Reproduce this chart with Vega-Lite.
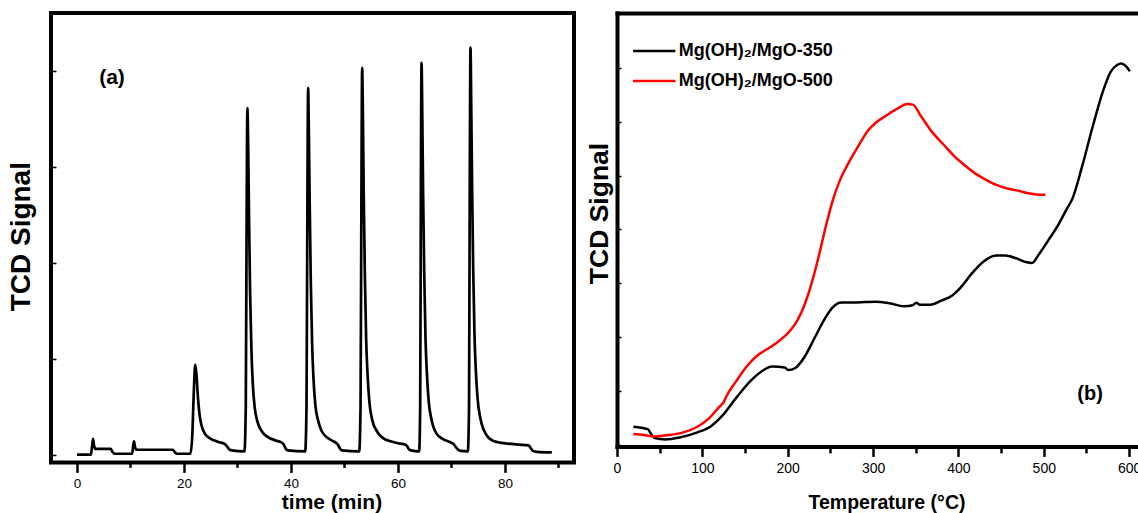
{
  "$schema": "https://vega.github.io/schema/vega-lite/v6.json",
  "background": "white",
  "padding": {"left": 5, "top": 11, "right": 0, "bottom": 0},
  "spacing": 10,
  "config": {
    "view": {"stroke": "black", "strokeWidth": 4},
    "font": "Liberation Sans",
    "axis": {"labelFont": "Liberation Sans", "titleFont": "Liberation Sans", "labelColor": "black", "titleColor": "black", "tickColor": "black", "domainColor": "black", "grid": false, "labelOverlap": false, "labelFlush": false}
  },
  "hconcat": [
    {
      "width": 523,
      "height": 449.4,
      "layer": [
        {
          "data": {"values": [
            {"t":0,"v":0},{"t":2.6,"v":0},{"t":2.8,"v":0.08},{"t":3.0,"v":0.164},{"t":3.2,"v":0.09},{"t":3.5,"v":0.06},{"t":6.3,"v":0.06},{"t":6.6,"v":0.03},{"t":7.0,"v":0.01},{"t":10.3,"v":0.01},{"t":10.5,"v":0.09},{"t":10.65,"v":0.139},{"t":10.85,"v":0.08},{"t":11.15,"v":0.052},{"t":17.9,"v":0.052},{"t":18.3,"v":0.025},{"t":18.65,"v":0.01},{"t":21.2,"v":0.01},
            {"t":21.55,"v":0.2},{"t":21.8,"v":0.6},{"t":22.1,"v":0.9375},{"t":22.35,"v":0.82},{"t":22.6,"v":0.6},{"t":22.9,"v":0.42},{"t":23.3,"v":0.3},{"t":23.9,"v":0.22},{"t":24.6,"v":0.18},{"t":25.6,"v":0.15},{"t":26.6,"v":0.13},{"t":27.5,"v":0.115},{"t":28.0,"v":0.09},{"t":28.4,"v":0.06},{"t":28.9,"v":0.045},{"t":31.3,"v":0.035},
            {"t":31.55,"v":0.5},{"t":31.72,"v":2.6},{"t":31.85,"v":3.61},{"t":32.0,"v":3.2},{"t":32.15,"v":2.5},{"t":32.35,"v":1.7},{"t":32.6,"v":1.1},{"t":32.85,"v":0.75},{"t":33.2,"v":0.5},{"t":33.7,"v":0.35},{"t":34.6,"v":0.24},{"t":35.7,"v":0.184},{"t":37.1,"v":0.149},{"t":38.4,"v":0.122},{"t":38.7,"v":0.1},{"t":39.0,"v":0.065},{"t":39.4,"v":0.045},{"t":42.65,"v":0.035},
            {"t":42.9,"v":0.5},{"t":43.07,"v":2.7},{"t":43.2,"v":3.82},{"t":43.35,"v":3.3},{"t":43.5,"v":2.6},{"t":43.7,"v":1.8},{"t":43.95,"v":1.15},{"t":44.2,"v":0.8},{"t":44.55,"v":0.52},{"t":45.05,"v":0.36},{"t":45.7,"v":0.25},{"t":47.0,"v":0.17},{"t":47.9,"v":0.14},{"t":48.4,"v":0.125},{"t":48.8,"v":0.1},{"t":49.1,"v":0.07},{"t":49.5,"v":0.045},{"t":52.75,"v":0.035},
            {"t":53.0,"v":0.5},{"t":53.17,"v":2.8},{"t":53.3,"v":4.03},{"t":53.45,"v":3.5},{"t":53.6,"v":2.7},{"t":53.8,"v":1.9},{"t":54.05,"v":1.2},{"t":54.3,"v":0.85},{"t":54.65,"v":0.55},{"t":55.15,"v":0.37},{"t":56.1,"v":0.24},{"t":57.3,"v":0.17},{"t":58.6,"v":0.14},{"t":60.0,"v":0.12},{"t":61.4,"v":0.105},{"t":61.7,"v":0.09},{"t":62.0,"v":0.06},{"t":62.4,"v":0.045},{"t":63.95,"v":0.035},
            {"t":64.15,"v":0.5},{"t":64.28,"v":2.8},{"t":64.4,"v":4.08},{"t":64.55,"v":3.5},{"t":64.7,"v":2.7},{"t":64.9,"v":1.9},{"t":65.15,"v":1.2},{"t":65.4,"v":0.85},{"t":65.75,"v":0.55},{"t":66.25,"v":0.37},{"t":67.2,"v":0.22},{"t":68.5,"v":0.16},{"t":69.8,"v":0.13},{"t":70.4,"v":0.11},{"t":70.8,"v":0.08},{"t":71.2,"v":0.055},{"t":71.7,"v":0.04},{"t":73.05,"v":0.035},
            {"t":73.28,"v":0.5},{"t":73.42,"v":2.9},{"t":73.55,"v":4.24},{"t":73.7,"v":3.6},{"t":73.85,"v":2.8},{"t":74.05,"v":1.95},{"t":74.3,"v":1.25},{"t":74.55,"v":0.88},{"t":74.9,"v":0.57},{"t":75.4,"v":0.38},{"t":76.6,"v":0.2},{"t":77.6,"v":0.15},{"t":78.7,"v":0.13},{"t":80.5,"v":0.115},{"t":82.5,"v":0.105},{"t":84.4,"v":0.097},{"t":84.8,"v":0.07},{"t":85.2,"v":0.04},{"t":86.0,"v":0.03},{"t":88.75,"v":0.024}
          ]},
          "mark": {"type": "line", "color": "black", "strokeWidth": 2.7, "interpolate": "monotone"},
          "encoding": {
            "x": {"field": "t", "type": "quantitative",
              "scale": {"domain": [-4.86, 92.9], "nice": false, "zero": false},
              "axis": {"values": [0,10,20,30,40,50,60,70,80,90],
                "labelExpr": "datum.value % 20 === 0 ? datum.label : ''",
                "tickSize": {"condition": {"test": "datum.value % 20 === 0", "value": 10}, "value": 5},
                "tickWidth": 2.5, "domain": false, "labelFontSize": 13.5, "labelPadding": 4,
                "title": "time (min)", "titleFontSize": 21, "titleFontWeight": "bold", "titleX": 280.5, "titleY": 28.6}},
            "y": {"field": "v", "type": "quantitative",
              "scale": {"domain": [-0.08, 4.6], "nice": false, "zero": false},
              "axis": {"values": [0,1,2,3,4], "labels": false, "tickSize": -5, "tickWidth": 1.5, "domain": false,
                "title": "TCD Signal", "titleFontSize": 28, "titleFontWeight": "bold", "titleX": -15.5, "titleY": 223.2}}
          }
        },
        {
          "data": {"values": [{"label": "(a)"}]},
          "mark": {"type": "text", "fontSize": 21, "fontWeight": "bold", "font": "Liberation Sans", "color": "black", "align": "center", "baseline": "middle"},
          "encoding": {"text": {"field": "label"}, "x": {"datum": 6.54, "type": "quantitative"}, "y": {"datum": 3.92, "type": "quantitative"}}
        }
      ]
    },
    {
      "width": 521,
      "height": 433.4,
      "view": {"stroke": null},
      "layer": [
        {
          "data": {"values": [
            {"s":"Mg(OH)\u2082/MgO-350","T":19.2,"v":0.68},{"s":"Mg(OH)\u2082/MgO-350","T":35.9,"v":0.59},{"s":"Mg(OH)\u2082/MgO-350","T":40,"v":0.41},{"s":"Mg(OH)\u2082/MgO-350","T":44.2,"v":0.26},{"s":"Mg(OH)\u2082/MgO-350","T":56.7,"v":0.21},{"s":"Mg(OH)\u2082/MgO-350","T":73.4,"v":0.28},{"s":"Mg(OH)\u2082/MgO-350","T":94.2,"v":0.47},{"s":"Mg(OH)\u2082/MgO-350","T":110.9,"v":0.72},{"s":"Mg(OH)\u2082/MgO-350","T":123.4,"v":1.09},{"s":"Mg(OH)\u2082/MgO-350","T":140.1,"v":1.77},{"s":"Mg(OH)\u2082/MgO-350","T":156.8,"v":2.39},{"s":"Mg(OH)\u2082/MgO-350","T":169.3,"v":2.73},{"s":"Mg(OH)\u2082/MgO-350","T":181.8,"v":2.91},{"s":"Mg(OH)\u2082/MgO-350","T":196.4,"v":2.88},{"s":"Mg(OH)\u2082/MgO-350","T":200.6,"v":2.78},{"s":"Mg(OH)\u2082/MgO-350","T":208.9,"v":2.86},{"s":"Mg(OH)\u2082/MgO-350","T":219.3,"v":3.25},{"s":"Mg(OH)\u2082/MgO-350","T":231.9,"v":4.0},{"s":"Mg(OH)\u2082/MgO-350","T":244.4,"v":4.74},{"s":"Mg(OH)\u2082/MgO-350","T":252.7,"v":5.11},{"s":"Mg(OH)\u2082/MgO-350","T":263.1,"v":5.29},{"s":"Mg(OH)\u2082/MgO-350","T":277.7,"v":5.29},{"s":"Mg(OH)\u2082/MgO-350","T":302.8,"v":5.32},{"s":"Mg(OH)\u2082/MgO-350","T":319.4,"v":5.26},{"s":"Mg(OH)\u2082/MgO-350","T":336.1,"v":5.15},{"s":"Mg(OH)\u2082/MgO-350","T":346.5,"v":5.19},{"s":"Mg(OH)\u2082/MgO-350","T":350.7,"v":5.28},{"s":"Mg(OH)\u2082/MgO-350","T":354.9,"v":5.21},{"s":"Mg(OH)\u2082/MgO-350","T":367.4,"v":5.21},{"s":"Mg(OH)\u2082/MgO-350","T":379.9,"v":5.36},{"s":"Mg(OH)\u2082/MgO-350","T":392.4,"v":5.54},{"s":"Mg(OH)\u2082/MgO-350","T":402.8,"v":5.85},{"s":"Mg(OH)\u2082/MgO-350","T":415.3,"v":6.35},{"s":"Mg(OH)\u2082/MgO-350","T":429.9,"v":6.82},{"s":"Mg(OH)\u2082/MgO-350","T":444.5,"v":7.03},{"s":"Mg(OH)\u2082/MgO-350","T":455,"v":7.03},{"s":"Mg(OH)\u2082/MgO-350","T":467.5,"v":6.93},{"s":"Mg(OH)\u2082/MgO-350","T":480,"v":6.78},{"s":"Mg(OH)\u2082/MgO-350","T":486.2,"v":6.75},{"s":"Mg(OH)\u2082/MgO-350","T":494.6,"v":7.09},{"s":"Mg(OH)\u2082/MgO-350","T":507.1,"v":7.68},{"s":"Mg(OH)\u2082/MgO-350","T":517.5,"v":8.2},{"s":"Mg(OH)\u2082/MgO-350","T":525.9,"v":8.7},{"s":"Mg(OH)\u2082/MgO-350","T":534.2,"v":9.19},{"s":"Mg(OH)\u2082/MgO-350","T":544.6,"v":10.3},{"s":"Mg(OH)\u2082/MgO-350","T":557.1,"v":11.79},{"s":"Mg(OH)\u2082/MgO-350","T":569.6,"v":13.15},{"s":"Mg(OH)\u2082/MgO-350","T":578,"v":13.83},{"s":"Mg(OH)\u2082/MgO-350","T":586.3,"v":14.11},{"s":"Mg(OH)\u2082/MgO-350","T":590.5,"v":14.16},{"s":"Mg(OH)\u2082/MgO-350","T":594.7,"v":14.1},{"s":"Mg(OH)\u2082/MgO-350","T":600.9,"v":13.87},
            {"s":"Mg(OH)\u2082/MgO-500","T":19.2,"v":0.41},{"s":"Mg(OH)\u2082/MgO-500","T":31.7,"v":0.37},{"s":"Mg(OH)\u2082/MgO-500","T":44.2,"v":0.32},{"s":"Mg(OH)\u2082/MgO-500","T":60.9,"v":0.37},{"s":"Mg(OH)\u2082/MgO-500","T":77.6,"v":0.47},{"s":"Mg(OH)\u2082/MgO-500","T":94.2,"v":0.68},{"s":"Mg(OH)\u2082/MgO-500","T":106.8,"v":0.96},{"s":"Mg(OH)\u2082/MgO-500","T":119.3,"v":1.4},{"s":"Mg(OH)\u2082/MgO-500","T":125.5,"v":1.62},{"s":"Mg(OH)\u2082/MgO-500","T":127.6,"v":1.77},{"s":"Mg(OH)\u2082/MgO-500","T":140.1,"v":2.39},{"s":"Mg(OH)\u2082/MgO-500","T":152.6,"v":2.94},{"s":"Mg(OH)\u2082/MgO-500","T":165.1,"v":3.34},{"s":"Mg(OH)\u2082/MgO-500","T":177.6,"v":3.59},{"s":"Mg(OH)\u2082/MgO-500","T":190.2,"v":3.87},{"s":"Mg(OH)\u2082/MgO-500","T":202.7,"v":4.24},{"s":"Mg(OH)\u2082/MgO-500","T":211,"v":4.61},{"s":"Mg(OH)\u2082/MgO-500","T":219.3,"v":5.17},{"s":"Mg(OH)\u2082/MgO-500","T":227.7,"v":5.97},{"s":"Mg(OH)\u2082/MgO-500","T":236,"v":6.96},{"s":"Mg(OH)\u2082/MgO-500","T":244.4,"v":8.08},{"s":"Mg(OH)\u2082/MgO-500","T":252.7,"v":9.07},{"s":"Mg(OH)\u2082/MgO-500","T":261,"v":9.81},{"s":"Mg(OH)\u2082/MgO-500","T":269.4,"v":10.36},{"s":"Mg(OH)\u2082/MgO-500","T":281.9,"v":11.05},{"s":"Mg(OH)\u2082/MgO-500","T":294.4,"v":11.68},{"s":"Mg(OH)\u2082/MgO-500","T":302.8,"v":11.95},{"s":"Mg(OH)\u2082/MgO-500","T":315.3,"v":12.22},{"s":"Mg(OH)\u2082/MgO-500","T":327.8,"v":12.47},{"s":"Mg(OH)\u2082/MgO-500","T":340.3,"v":12.65},{"s":"Mg(OH)\u2082/MgO-500","T":346.5,"v":12.63},{"s":"Mg(OH)\u2082/MgO-500","T":357,"v":12.16},{"s":"Mg(OH)\u2082/MgO-500","T":369.5,"v":11.6},{"s":"Mg(OH)\u2082/MgO-500","T":382,"v":11.17},{"s":"Mg(OH)\u2082/MgO-500","T":394.5,"v":10.74},{"s":"Mg(OH)\u2082/MgO-500","T":407,"v":10.39},{"s":"Mg(OH)\u2082/MgO-500","T":419.5,"v":10.08},{"s":"Mg(OH)\u2082/MgO-500","T":432,"v":9.85},{"s":"Mg(OH)\u2082/MgO-500","T":444.5,"v":9.65},{"s":"Mg(OH)\u2082/MgO-500","T":457,"v":9.52},{"s":"Mg(OH)\u2082/MgO-500","T":469.5,"v":9.44},{"s":"Mg(OH)\u2082/MgO-500","T":482,"v":9.34},{"s":"Mg(OH)\u2082/MgO-500","T":494.6,"v":9.29},{"s":"Mg(OH)\u2082/MgO-500","T":502,"v":9.29}
          ]},
          "mark": {"type": "line", "strokeWidth": 2.5, "interpolate": "monotone"},
          "encoding": {
            "x": {"field": "T", "type": "quantitative",
              "scale": {"domain": [0, 610.4], "nice": false, "zero": false},
              "axis": {"orient": "bottom", "values": [0,50,100,150,200,250,300,350,400,450,500,550,600],
                "labelExpr": "datum.value % 100 === 0 ? datum.label : ''",
                "tickSize": {"condition": {"test": "datum.value % 100 === 0", "value": 10}, "value": 6.5},
                "tickWidth": 2.5, "domain": true, "domainWidth": 4, "domainCap": "square",
                "labelFontSize": 14, "labelPadding": 5,
                "title": "Temperature (\u00b0C)", "titleFontSize": 19.5, "titleFontWeight": "bold", "titleX": 269.5, "titleY": 47.5}},
            "y": {"field": "v", "type": "quantitative",
              "scale": {"domain": [-0.05, 16.03], "nice": false, "zero": false},
              "axis": {"values": [0,1,2,3,4,5,6,7,8,9,10,11,12,13,14,15], "labels": false, "tickSize": -4, "tickWidth": 1.5,
                "domain": true, "domainWidth": 4, "domainCap": "square",
                "title": "TCD Signal", "titleFontSize": 26.5, "titleFontWeight": "bold", "titleX": -4, "titleY": 200}},
            "color": {"field": "s", "type": "nominal",
              "scale": {"domain": ["Mg(OH)\u2082/MgO-350", "Mg(OH)\u2082/MgO-500"], "range": ["black", "#ff0000"]},
              "legend": {"orient": "none", "legendX": 586.7, "legendY": 21.6, "title": null,
                "symbolType": "M-1.4,0H1.4", "symbolSize": 912, "symbolStrokeWidth": 2.5,
                "labelFontSize": 18, "labelFontWeight": "bold", "labelFont": "Liberation Sans", "labelColor": "black",
                "labelOffset": 8, "rowPadding": 4, "padding": 0}}
          }
        },
        {
          "data": {"values": [{"label": "(b)"}]},
          "mark": {"type": "text", "fontSize": 20, "fontWeight": "bold", "font": "Liberation Sans", "color": "black", "align": "center", "baseline": "middle"},
          "encoding": {
            "text": {"field": "label"},
            "x": {"datum": 554.2, "type": "quantitative",
              "axis": {"orient": "top", "labels": false, "ticks": false, "domain": true, "domainWidth": 4, "domainCap": "square", "title": null}},
            "y": {"datum": 1.9, "type": "quantitative"}
          }
        }
      ],
      "resolve": {"axis": {"x": "independent"}}
    }
  ]
}
